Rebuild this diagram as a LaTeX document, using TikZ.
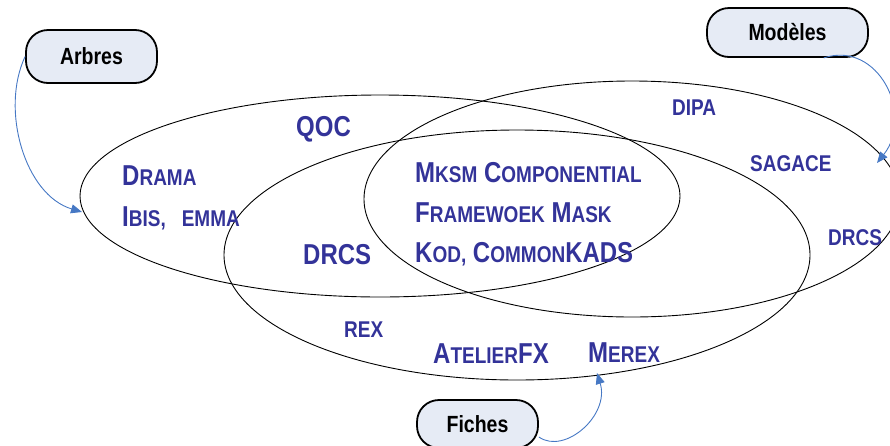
\documentclass[tikz,border=0pt]{standalone}
\usepackage{fontspec}
\setmainfont{Liberation Sans}
\usepackage{graphicx}
\usepackage{tikz}
\usetikzlibrary{arrows.meta}

\definecolor{setblue}{RGB}{51,51,153}
\definecolor{boxfill}{RGB}{230,235,245}
\definecolor{linkblue}{RGB}{70,120,196}

% smaller capitals after a full-size initial
\newcommand{\smc}[1]{{\fontsize{19}{19}\selectfont #1}}
% the text of the figure is drawn a bit taller than the font
\newcommand{\tall}[1]{\scalebox{1}[1.2]{#1}}

\tikzset{
  setbox/.style={draw,line width=1.8pt,fill=boxfill,rounded corners=22pt,
    inner sep=0pt,font=\bfseries\fontsize{19.5}{20}\selectfont},
  item/.style={anchor=base west,inner sep=0pt,text=setblue,
    font=\bfseries\fontsize{24}{24}\selectfont},
  smallitem/.style={item,font=\bfseries\fontsize{19}{19}\selectfont},
  link/.style={->,linkblue,line width=0.9pt},
}

\begin{document}
\begin{tikzpicture}[>={Triangle[length=11pt,width=9pt]},x=1pt,y=-1pt]

	\clip (0,0) rectangle (890,445);

	% The three sets
	\draw[line width=0.9pt] (380,196) ellipse [x radius=300pt,y radius=101pt];
	\draw[line width=0.9pt] (517,255) ellipse [x radius=293pt,y radius=125pt];
	\draw[line width=0.9pt] (632,199) ellipse [x radius=268pt,y radius=118pt];

	% Set names
	\node[setbox,minimum width=131pt,minimum height=53pt] (arbres) at (91.5,56.5) {\tall{Arbres}};
	\node[setbox,minimum width=161pt,minimum height=49pt] (modeles) at (787.5,32.5) {\tall{Modèles}};
	\node[setbox,minimum width=121pt,minimum height=48pt] (fiches) at (477.5,424) {\tall{Fiches}};

	% Where the links end
	\coordinate (arbresTip) at (82,212);
	\coordinate (modelesTip) at (877,163);
	\coordinate (fichesTip) at (597,373);

	\draw[link] (arbres.west) .. controls (0,110) and (25,195) .. (arbresTip);
	\draw[link] (modeles.-35) .. controls (878,40) and (915,115) .. (modelesTip);
	\draw[link] (fiches.-12) .. controls (565,455) and (610,415) .. (fichesTip);

	% Arbres only
	\node[item] (qoc) at (296,136) {\tall{QOC}};
	\node[item] (drama) at (122,185) {\tall{D\smc{RAMA}}};
	\node[item] (ibis) at (122,226) {\tall{I\smc{BIS,\hspace{16pt}EMMA}}};

	% Arbres and Fiches
	\node[item] (drcsA) at (303,264) {\tall{DRCS}};

	% All three
	\node[item] (mksm) at (415,182) {\tall{M\smc{KSM} C\smc{OMPONENTIAL}}};
	\node[item] (framework) at (415,222) {\tall{F\smc{RAMEWOEK} M\smc{ASK}}};
	\node[item] (kod) at (415,262) {\tall{K\smc{OD,} C\smc{OMMON}KADS}};

	% Modeles only
	\node[smallitem] (dipa) at (672,115) {\tall{DIPA}};
	\node[smallitem] (sagace) at (750,171) {\tall{SAGACE}};
	\node[smallitem] (drcsM) at (828,245) {\tall{DRCS}};

	% Fiches only
	\node[smallitem] (rex) at (344,337) {\tall{REX}};
	\node[item] (atelier) at (433,363) {\tall{A\smc{TELIER}FX}};
	\node[item] (merex) at (588,362) {\tall{M\smc{EREX}}};

\end{tikzpicture}
\end{document}
